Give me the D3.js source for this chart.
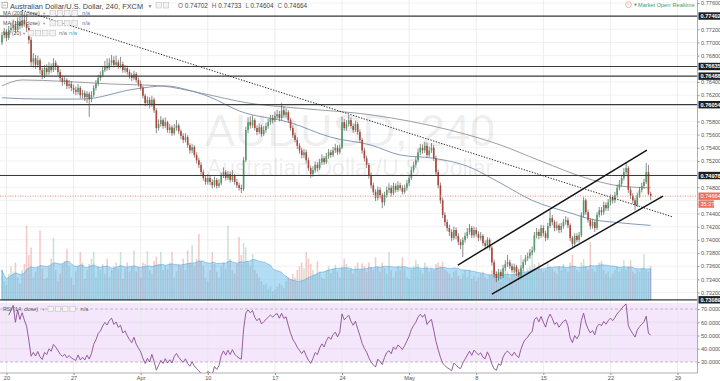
<!DOCTYPE html>
<html><head><meta charset="utf-8">
<script src="https://cdn.jsdelivr.net/npm/d3@7"></script>
<style>html,body{margin:0;padding:0;background:#fff;overflow:hidden}svg{display:block}text{font-family:"Liberation Sans",Arial,sans-serif}</style>
</head><body><svg id="c" width="720" height="381"></svg>
<script>
// ---------- DATA (prices in pips: 7650 = 0.7650) ----------
const firstOpen = 7700;
const closes = [
7711,7716,7707,7719,7722,7726,7719,7731,7725,7734,
7728,7722,7704,7670,7676,7666,7673,7658,7650,7661,
7655,7664,7658,7669,7663,7655,7646,7640,7643,7634,
7637,7631,7628,7625,7631,7620,7623,7617,7622,7614,
7620,7631,7637,7646,7650,7658,7664,7661,7669,7673,
7666,7670,7664,7667,7658,7661,7655,7650,7646,7652,
7643,7637,7631,7619,7608,7613,7605,7613,7597,7570,
7576,7582,7573,7579,7567,7571,7562,7570,7574,7565,
7558,7552,7556,7544,7536,7541,7529,7521,7514,7503,
7494,7488,7494,7488,7483,7491,7482,7486,7497,7503,
7494,7500,7491,7497,7488,7483,7479,7477,7521,7567,
7579,7574,7582,7570,7564,7571,7561,7567,7573,7579,
7585,7582,7588,7591,7585,7597,7590,7594,7582,7570,
7559,7552,7543,7536,7529,7533,7521,7509,7500,7506,
7514,7509,7518,7524,7518,7527,7533,7529,7536,7540,
7533,7540,7579,7570,7576,7582,7573,7567,7576,7564,
7552,7536,7524,7514,7498,7483,7473,7464,7476,7468,
7457,7468,7476,7479,7471,7482,7476,7483,7479,7473,
7479,7486,7494,7506,7514,7521,7533,7540,7536,7543,
7529,7536,7540,7524,7503,7483,7460,7438,7427,7418,
7412,7403,7415,7406,7397,7392,7400,7406,7412,7418,
7407,7415,7409,7403,7406,7395,7391,7400,7388,7366,
7348,7342,7351,7345,7357,7363,7366,7360,7354,7359,
7351,7346,7357,7366,7372,7375,7381,7384,7407,7412,
7406,7418,7410,7403,7421,7433,7427,7418,7422,7415,
7421,7427,7430,7422,7403,7394,7406,7400,7407,7438,
7460,7442,7430,7421,7427,7418,7438,7445,7442,7453,
7448,7457,7464,7460,7468,7479,7485,7494,7503,7509,
7476,7467,7460,7453,7468,7476,7482,7488,7503,7470,
7466.4];
const highs = [
7716,7722,7720,7725,7730,7735,7732,7738,7740,7749,
7746,7742,7726,7708,7684,7681,7680,7676,7662,7666,
7667,7670,7668,7676,7673,7666,7659,7650,7649,7646,
7643,7641,7636,7633,7637,7634,7628,7627,7626,7625,
7626,7635,7643,7651,7656,7664,7672,7676,7676,7681,
7679,7680,7674,7678,7671,7666,7665,7659,7654,7657,
7655,7647,7642,7634,7622,7618,7617,7619,7616,7600,
7583,7588,7585,7586,7581,7576,7574,7576,7582,7577,
7568,7562,7562,7559,7547,7546,7544,7533,7525,7518,
7507,7498,7500,7498,7492,7496,7494,7492,7502,7510,
7506,7505,7504,7506,7500,7493,7487,7484,7526,7572,
7586,7588,7589,7585,7574,7577,7575,7573,7578,7584,
7590,7590,7595,7598,7596,7608,7603,7600,7597,7585,
7574,7563,7556,7547,7540,7538,7537,7525,7513,7512,
7519,7518,7523,7530,7527,7532,7538,7537,7541,7546,
7544,7545,7587,7584,7582,7590,7586,7577,7581,7579,
7568,7555,7540,7528,7517,7502,7487,7477,7481,7480,
7471,7473,7481,7486,7483,7487,7486,7489,7487,7483,
7484,7491,7499,7511,7519,7526,7539,7546,7545,7549,
7548,7542,7547,7544,7528,7507,7487,7464,7442,7431,
7423,7416,7420,7419,7410,7401,7404,7411,7418,7424,
7421,7420,7419,7413,7412,7409,7399,7404,7403,7391,
7370,7352,7356,7355,7362,7369,7377,7370,7364,7364,
7362,7355,7361,7370,7377,7381,7386,7390,7412,7418,
7416,7423,7422,7414,7426,7445,7438,7430,7428,7425,
7426,7432,7436,7434,7425,7406,7410,7410,7412,7442,
7465,7463,7446,7433,7432,7430,7442,7450,7450,7458,
7457,7462,7469,7468,7473,7484,7491,7499,7509,7517,
7512,7480,7471,7464,7472,7480,7487,7493,7517,7514,
7473.3];
const lows = [
7696,7706,7702,7704,7715,7718,7714,7716,7720,7722,
7724,7716,7698,7664,7662,7660,7662,7652,7644,7646,
7650,7651,7654,7655,7658,7650,7641,7634,7636,7629,
7630,7626,7622,7620,7621,7615,7615,7611,7608,7587,
7609,7617,7627,7634,7642,7647,7655,7657,7658,7665,
7662,7663,7660,7661,7654,7654,7651,7645,7641,7643,
7639,7633,7627,7615,7603,7604,7600,7602,7593,7562,
7566,7572,7569,7570,7563,7562,7558,7559,7566,7561,
7553,7547,7548,7540,7531,7532,7525,7516,7509,7499,
7490,7484,7484,7483,7478,7480,7478,7479,7483,7494,
7490,7491,7487,7488,7484,7479,7475,7471,7474,7518,
7562,7569,7570,7566,7559,7561,7557,7558,7563,7569,
7575,7577,7579,7584,7580,7582,7586,7586,7578,7566,
7555,7548,7538,7531,7524,7524,7516,7505,7494,7496,
7502,7504,7506,7514,7514,7515,7523,7525,7526,7532,
7529,7530,7538,7566,7566,7572,7569,7563,7564,7560,
7548,7531,7519,7509,7493,7478,7468,7459,7460,7463,
7448,7452,7464,7471,7466,7468,7472,7473,7475,7469,
7470,7475,7482,7491,7502,7510,7518,7529,7531,7532,
7525,7526,7532,7520,7499,7478,7455,7433,7421,7413,
7406,7398,7400,7401,7392,7386,7374,7396,7402,7408,
7403,7403,7405,7398,7399,7391,7386,7387,7384,7361,
7343,7336,7338,7340,7342,7353,7359,7356,7350,7350,
7345,7343,7344,7353,7362,7368,7371,7377,7381,7402,
7401,7403,7405,7398,7400,7418,7422,7413,7414,7410,
7411,7417,7423,7418,7398,7389,7391,7396,7396,7404,
7434,7438,7426,7416,7417,7412,7415,7434,7437,7438,
7444,7444,7452,7455,7456,7464,7475,7481,7490,7499,
7471,7462,7455,7445,7450,7464,7472,7478,7485,7468,
7460.4];
const volumes = [
40,25,20,35,45,38,50,30,22,40,
48,99,60,70,30,38,45,93,42,28,
30,44,55,83,40,25,35,48,52,68,
45,30,20,38,45,64,50,28,40,48,
55,64,30,45,40,48,35,55,30,40,
45,50,42,64,28,42,50,38,45,66,
38,44,30,50,48,65,40,35,52,58,
48,64,40,45,42,50,64,30,38,48,
45,55,40,66,50,73,45,55,88,52,
45,30,25,40,64,48,38,30,45,50,
42,99,55,40,35,48,84,60,76,70,
50,45,61,40,35,30,25,20,22,15,
18,12,14,18,22,20,16,25,30,28,
35,30,40,45,50,42,64,55,48,40,
35,52,38,30,28,40,45,36,42,47,
38,30,45,55,48,40,42,35,45,50,
40,49,45,38,50,44,40,57,45,38,
50,42,35,64,40,30,38,45,40,57,
42,30,28,40,45,53,48,40,35,50,
45,38,42,40,48,50,45,51,40,38,
35,30,38,40,32,28,35,40,30,40,
28,32,25,30,35,38,30,28,35,40,
45,38,30,25,35,40,38,30,35,40,
45,42,60,40,35,42,45,64,48,40,
50,42,38,40,50,45,42,38,35,45,
40,48,42,38,50,60,45,40,38,50,
55,45,40,77,42,38,45,50,52,40,
35,38,30,35,40,45,38,42,53,40,
45,53,38,35,40,38,43,61,40,38,
45];
// moving averages: [bar index, price in pips]
const ma200Pts = [[0,7634],[9,7643],[27,7641],[48,7637],[71,7634],[89,7623],[110,7608],[133,7600],[165,7590],[200,7567],[223,7544],[240,7521],[264,7491],[276,7482],[290,7479]];
const ma100Pts = [[0,7616],[17,7614],[36,7614],[59,7629],[73,7634],[83,7628],[93,7617],[106,7596],[129,7578],[147,7556],[165,7544],[178,7529],[193,7524],[208,7512],[223,7486],[237,7460],[253,7442],[264,7431],[276,7426],[290,7422]];
const dateTickIdx = [2,32,62,92,122,152,182,212,242,272,302];
const dateTickLabels = ["20","27","Apr","10","17","24","May","8","15","22","29"];
const priceTicks = [0.732,0.734,0.736,0.738,0.740,0.742,0.744,0.746,0.748,0.750,0.752,0.754,0.756,0.758,0.760,0.762,0.764,0.766,0.768,0.770,0.772,0.774,0.776];
const rsiTicks = [70,60,50,40,30];
const hLinePrices = [0.77402,0.76635,0.76488,0.76054,0.74978,0.73089];
const trendLine = [[9,0.7749],[300,0.74347]];
const channelUpper = [[203.8,0.73617],[288.3,0.75365]];
const channelLower = [[219,0.73176],[295.5,0.74666]];
const lastPrice = 0.74664;
const countdown = "35:27";
const ohlc = [["O","0.74702"],["H","0.74733"],["L","0.74604"],["C","0.74664"]];

// ---------- SCALES ----------
const svg = d3.select('#c');
const plotR = 697.5;
const x = d3.scaleLinear().domain([0,290]).range([2,650.7]);
const y = d3.scaleLinear().domain([0.732,0.776]).range([292.5,3]);
const yv = d3.scaleLinear().domain([0,100]).range([300,225]);
const yr = d3.scaleLinear().domain([30,70]).range([362,309]);
const P = v => v/10000;
const N = closes.length;
const bars = closes.map((c,i)=>{
  const o = i===0 ? firstOpen : closes[i-1];
  return {i, o:P(o), c:P(c), h:P(Math.max(highs[i],o,c)), l:P(Math.min(lows[i],o,c)), v:volumes[i]};
});

const defs = svg.append('defs');
defs.append('clipPath').attr('id','cm').append('rect').attr('x',0).attr('y',0).attr('width',plotR).attr('height',301);
defs.append('clipPath').attr('id','cr').append('rect').attr('x',0).attr('y',302).attr('width',plotR).attr('height',71);

svg.append('rect').attr('width',720).attr('height',381).attr('fill','#fff');

// RSI band
svg.append('rect').attr('x',0).attr('y',303).attr('width',plotR).attr('height',yr(30)-303).attr('fill','#f4e6fb');

// grid
const grid = svg.append('g');
grid.selectAll('.vg').data(dateTickIdx).join('line')
  .attr('x1',d=>x(d)).attr('x2',d=>x(d)).attr('y1',0).attr('y2',373)
  .attr('stroke','#e8e8e8').attr('stroke-width',0.8);
grid.append('g').attr('clip-path','url(#cm)').selectAll('line').data(priceTicks).join('line')
  .attr('x1',0).attr('x2',plotR).attr('y1',d=>y(d)).attr('y2',d=>y(d))
  .attr('stroke','#efefef').attr('stroke-width',0.8);
grid.selectAll('.rg').data([60,50,40]).join('line')
  .attr('x1',0).attr('x2',plotR).attr('y1',d=>yr(d)).attr('y2',d=>yr(d))
  .attr('stroke','#e2d8e8').attr('stroke-width',0.7);
grid.selectAll('.rd').data([70,30]).join('line')
  .attr('x1',0).attr('x2',plotR).attr('y1',d=>yr(d)).attr('y2',d=>yr(d))
  .attr('stroke','#a9a9a9').attr('stroke-width',0.7).attr('stroke-dasharray','3,2');

// watermark
const wm = svg.append('g').attr('fill','rgba(0,0,0,0.085)').attr('text-anchor','middle');
wm.append('text').attr('x',350).attr('y',146).attr('font-size',45).text('AUDUSD, 240');
wm.append('text').attr('x',350).attr('y',176).attr('font-size',23).text('Australian Dollar/U.S. Dollar');

const main = svg.append('g').attr('clip-path','url(#cm)');

// volume
const bw = 1.55;
main.append('g').selectAll('rect').data(bars).join('rect')
  .attr('x',d=>x(d.i)-bw/2).attr('width',bw)
  .attr('y',d=>yv(d.v)).attr('height',d=>yv(0)-yv(d.v))
  .attr('fill',d=>d.c>=d.o?'rgba(107,165,131,0.33)':'rgba(215,84,66,0.30)');
const volMA = bars.map((d,i)=>{const s=volumes.slice(Math.max(0,i-19),i+1);return {i, v:d3.mean(s)};});
main.append('path').datum(volMA)
  .attr('d',d3.area().x(d=>x(d.i)).y0(yv(0)).y1(d=>yv(d.v)).curve(d3.curveLinear))
  .attr('fill','rgba(86,178,232,0.45)').attr('stroke','rgba(70,160,220,0.7)').attr('stroke-width',0.7);

// moving averages
const maLine = d3.line().x(d=>x(d[0])).y(d=>y(P(d[1]))).curve(d3.curveMonotoneX);
main.append('path').datum(ma200Pts).attr('d',maLine).attr('fill','none').attr('stroke','#8f9399').attr('stroke-width',0.9);
main.append('path').datum(ma100Pts).attr('d',maLine).attr('fill','none').attr('stroke','#7b8cae').attr('stroke-width',0.9);

// candles
const cg = main.append('g');
cg.selectAll('line').data(bars).join('line')
  .attr('x1',d=>x(d.i)).attr('x2',d=>x(d.i)).attr('y1',d=>y(d.h)).attr('y2',d=>y(d.l))
  .attr('stroke','#5a5a5a').attr('stroke-width',0.7);
cg.selectAll('rect').data(bars).join('rect')
  .attr('x',d=>x(d.i)-0.8).attr('width',1.6)
  .attr('y',d=>y(Math.max(d.o,d.c))).attr('height',d=>Math.max(0.8,Math.abs(y(d.o)-y(d.c))))
  .attr('fill',d=>d.c>=d.o?'#4f9c6b':'#b0443a');

// drawings
main.selectAll('.hl').data(hLinePrices).join('line')
  .attr('x1',0).attr('x2',plotR).attr('y1',d=>y(d)).attr('y2',d=>y(d))
  .attr('stroke','#3a3a3a').attr('stroke-width',1.2);
main.append('line').attr('x1',0).attr('x2',plotR).attr('y1',y(lastPrice)).attr('y2',y(lastPrice))
  .attr('stroke','#e37a6a').attr('stroke-width',0.9).attr('stroke-dasharray','1,1.5');
const dl = d3.line().x(d=>x(d[0])).y(d=>y(d[1]));
main.append('path').datum(trendLine).attr('d',dl).attr('stroke','#222').attr('stroke-width',1).attr('stroke-dasharray','1.3,1.5').attr('fill','none');
main.append('path').datum(channelUpper).attr('d',dl).attr('stroke','#111').attr('stroke-width',1.4).attr('fill','none');
main.append('path').datum(channelLower).attr('d',dl).attr('stroke','#111').attr('stroke-width',1.4).attr('fill','none');

// RSI (14, close)
const rsi = [];
let ag=0, al=0;
for(let i=1;i<N;i++){
  const ch = closes[i]-closes[i-1];
  const g = Math.max(ch,0), l = Math.max(-ch,0);
  if(i<=14){ ag=(ag*(i-1)+g)/i; al=(al*(i-1)+l)/i; }
  else { ag=(ag*13+g)/14; al=(al*13+l)/14; }
  rsi.push({i, r: al===0?100:100-100/(1+ag/al)});
}
svg.append('g').attr('clip-path','url(#cr)').append('path').datum(rsi.filter(d=>d.i>=3))
  .attr('d',d3.line().x(d=>x(d.i)).y(d=>yr(d.r)))
  .attr('fill','none').attr('stroke','#8a4e93').attr('stroke-width',0.9);

// axes
const fs = 5.6;
// price labels hidden behind the line boxes are not drawn
const boxYs = hLinePrices.map(p=>y(p)).concat([y(lastPrice), y(lastPrice)+7.9]);
const shownTicks = priceTicks.filter(t=>boxYs.every(by=>Math.abs(y(t)-by)>5.5));
svg.append('line').attr('x1',plotR).attr('x2',plotR).attr('y1',0).attr('y2',373).attr('stroke','#9a9a9a').attr('stroke-width',0.8);
svg.append('line').attr('x1',0).attr('x2',plotR).attr('y1',373).attr('y2',373).attr('stroke','#9a9a9a').attr('stroke-width',0.8);
const ax = svg.append('g').attr('transform',`translate(${plotR},0)`)
  .call(d3.axisRight(y).tickValues(shownTicks).tickSize(2).tickPadding(1.5).tickFormat(d3.format('.5f')));
ax.select('.domain').remove();
ax.selectAll('text').attr('font-size',fs).attr('fill','#555').attr('font-family','"Liberation Sans",Arial,sans-serif');
ax.selectAll('line').attr('stroke','#999');
const ar = svg.append('g').attr('transform',`translate(${plotR},0)`)
  .call(d3.axisRight(yr).tickValues(rsiTicks).tickSize(2).tickPadding(1.5).tickFormat(d3.format('.4f')));
ar.select('.domain').remove();
ar.selectAll('text').attr('font-size',fs).attr('fill','#555').attr('font-family','"Liberation Sans",Arial,sans-serif');
ar.selectAll('line').attr('stroke','#999');
const axb = svg.append('g').attr('transform','translate(0,373)')
  .call(d3.axisBottom(x).tickValues(dateTickIdx).tickSize(2).tickPadding(1).tickFormat((d,i)=>dateTickLabels[i]));
axb.select('.domain').remove();
axb.selectAll('text').attr('font-size',fs).attr('fill','#555').attr('font-family','"Liberation Sans",Arial,sans-serif');
axb.selectAll('line').attr('stroke','#999');

// price boxes
const boxes = svg.append('g');
hLinePrices.forEach(p=>{
  boxes.append('rect').attr('x',698.5).attr('y',y(p)-3.7).attr('width',22).attr('height',7.4).attr('fill','#1e1e1e');
  boxes.append('text').attr('x',700.5).attr('y',y(p)+2).attr('font-size',fs).attr('fill','#fff').attr('font-weight','bold').text(d3.format('.5f')(p));
});
boxes.append('rect').attr('x',698.5).attr('y',y(lastPrice)-3.7).attr('width',22).attr('height',7.4).attr('fill','#e8705f');
boxes.append('text').attr('x',700.5).attr('y',y(lastPrice)+2).attr('font-size',fs).attr('fill','#fff').text(d3.format('.5f')(lastPrice));
boxes.append('rect').attr('x',698.5).attr('y',y(lastPrice)+4.2).attr('width',15.5).attr('height',7.4).attr('fill','#e8705f');
boxes.append('text').attr('x',700.5).attr('y',y(lastPrice)+9.9).attr('font-size',fs).attr('fill','#fff').text(countdown);

// legends
const lg = svg.append('g').attr('fill','#555');
function icons(x0,y0,n){for(let k=0;k<n;k++){lg.append('rect').attr('x',x0+k*7.3).attr('y',y0).attr('width',5.4).attr('height',5.4).attr('fill','#f3f3f3').attr('stroke','#c2c2c2').attr('stroke-width',0.6);}}
lg.append('rect').attr('x',2).attr('y',2.5).attr('width',5.5).attr('height',5.5).attr('fill','#fff').attr('stroke','#888').attr('stroke-width',0.6);
lg.append('line').attr('x1',3.3).attr('x2',6.2).attr('y1',5.25).attr('y2',5.25).attr('stroke','#888').attr('stroke-width',0.6);
lg.append('text').attr('x',10).attr('y',8.6).attr('font-size',7.4).attr('fill','#444').text('Australian Dollar/U.S. Dollar, 240, FXCM');
lg.append('text').attr('x',147.5).attr('y',8.2).attr('font-size',5).attr('fill','#888').text('▼');
icons(156,2.6,2);
const ot = lg.append('text').attr('x',178).attr('y',8.4).attr('font-size',6.4).attr('fill','#444');
ohlc.forEach(([k,v],j)=>{ot.append('tspan').attr('dx',j?4:0).attr('fill','#666').text(k+' ');ot.append('tspan').text(v);});

const lfs = 5.3;
const legends = [["MA (200, close)",15.4,42,50,[["n/a","#5b7db5",82]]],["MA (100, close)",25.4,42,50,[["n/a","#5b7db5",82]]],["Vol (20)",35.4,22,28,[["n/a","#777",59],["n/a","#3f9fd8",69]]]];
legends.forEach(([t,yy,ax0,ix,nas])=>{
  lg.append('text').attr('x',3).attr('y',yy).attr('font-size',lfs).attr('fill','#555').text(t);
  lg.append('text').attr('x',ax0).attr('y',yy-0.4).attr('font-size',4).attr('fill','#999').text('▼');
  icons(ix,yy-4.9,4);
  nas.forEach(([s,c,xx])=>lg.append('text').attr('x',xx).attr('y',yy).attr('font-size',lfs+0.4).attr('fill',c).text(s));
});
lg.append('text').attr('x',3).attr('y',311.2).attr('font-size',lfs).attr('fill','#555').text('RSI (14, close)');
lg.append('text').attr('x',41.5).attr('y',310.8).attr('font-size',4).attr('fill','#999').text('▼');
icons(48,306.3,4);
lg.append('text').attr('x',80.5).attr('y',311.2).attr('font-size',lfs+0.4).attr('fill','#666').text('n/a');

// status (top right)
lg.append('circle').attr('cx',628.5).attr('cy',4.6).attr('r',3).attr('fill','none').attr('stroke','#f09a6a').attr('stroke-width',0.7);
lg.append('text').attr('x',627.6).attr('y',6.6).attr('font-size',5).attr('fill','#f09a6a').text('!');
lg.append('circle').attr('cx',635.5).attr('cy',4.6).attr('r',1.1).attr('fill','#3f9a6e');
lg.append('text').attr('x',638).attr('y',6.7).attr('font-size',5.6).attr('fill','#3f9a6e').text('Market Open');
lg.append('text').attr('x',672.5).attr('y',6.7).attr('font-size',5.6).attr('fill','#3f9a6e').text('Realtime');
</script></body></html>
